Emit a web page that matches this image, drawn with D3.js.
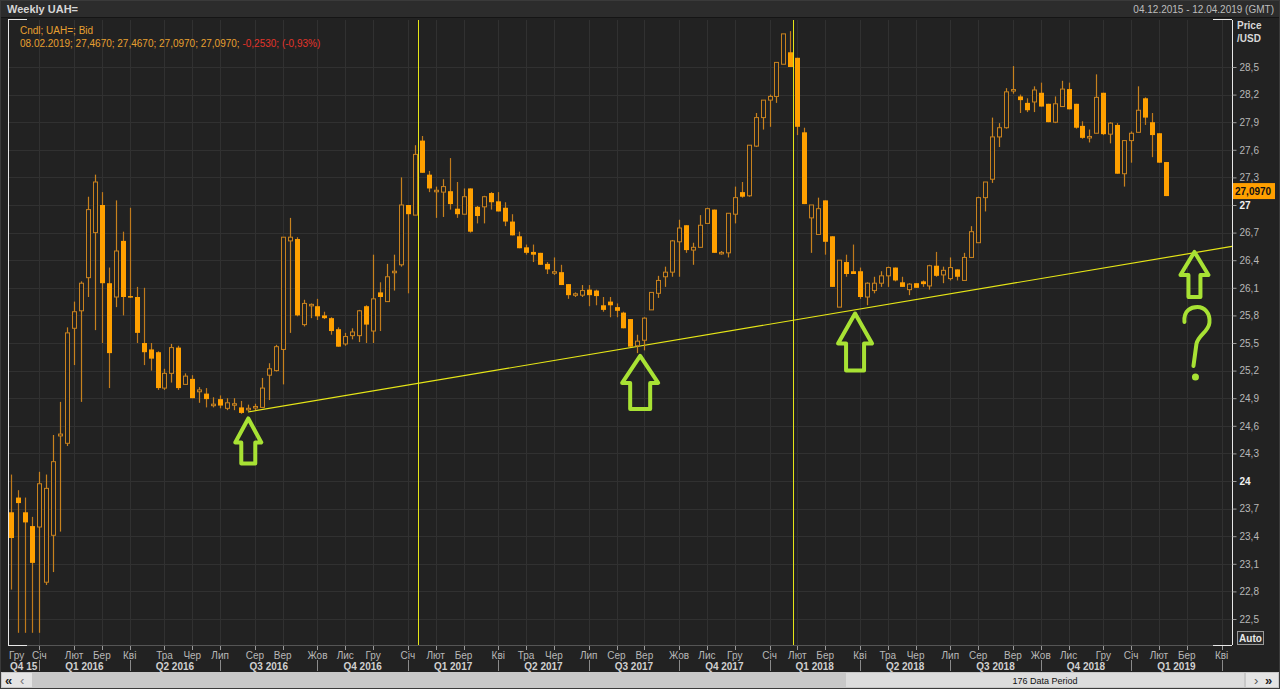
<!DOCTYPE html>
<html><head><meta charset="utf-8">
<script src="https://cdn.jsdelivr.net/npm/d3@7/dist/d3.min.js"></script>
<style>
html,body{margin:0;padding:0;background:#202020;overflow:hidden;}
svg{display:block;font-family:"Liberation Sans",Arial,sans-serif;}
</style></head><body>
<svg id="c" width="1280" height="689"></svg>
<script>
// ---------- DATA ----------
const startDate = "2015-12-04";
const periodCount = 176;
const opens = [23.66,23.82,23.66,23.51,23.50,22.90,23.41,24.49,24.41,25.66,25.85,26.21,26.70,27.00,26.15,26.00,26.61,26.01,26.00,25.50,
25.43,25.40,25.01,25.17,25.45,25.05,25.11,24.97,24.95,24.83,24.89,24.79,24.83,24.80,24.78,24.80,24.80,25.15,25.20,25.43,
26.61,26.63,25.70,25.91,25.90,25.80,25.77,25.65,25.49,25.58,25.58,25.90,25.63,26.05,25.95,26.27,26.35,27.00,26.89,27.70,
27.33,27.15,27.14,27.15,26.96,26.90,27.18,26.98,26.98,27.13,27.04,26.97,26.82,26.66,26.54,26.49,26.48,26.36,26.27,26.27,
26.14,26.03,26.02,26.08,26.07,25.91,25.95,25.89,25.83,25.76,25.47,25.53,25.86,26.04,26.22,26.27,26.60,26.78,26.51,26.54,
26.80,26.95,26.48,26.48,26.90,27.14,27.10,27.64,27.95,28.14,28.18,28.53,28.66,28.60,27.79,26.86,26.68,27.05,26.66,25.89,
26.38,26.28,26.28,26.00,26.07,26.15,26.23,26.32,26.16,26.08,26.15,26.17,26.12,26.34,26.24,26.20,26.30,26.18,26.43,26.59,
27.08,27.28,27.74,27.84,28.25,28.18,28.11,28.12,28.22,28.10,27.90,28.07,28.26,28.10,27.86,27.74,27.78,28.22,27.77,27.87,
27.34,27.70,27.79,28.16,27.90,27.78,27.467];
const highs = [24.07,23.90,23.82,23.61,24.10,24.07,24.50,24.86,25.67,25.95,26.17,27.09,27.33,27.14,26.32,27.05,26.71,26.97,26.11,26.10,
25.50,25.41,25.22,25.49,25.47,25.17,25.15,25.02,25.01,24.91,24.93,24.90,24.90,24.87,24.83,24.84,25.12,25.28,25.48,26.65,
26.86,26.65,25.97,25.93,25.98,25.84,25.78,25.67,25.61,25.66,25.86,25.91,26.46,26.16,26.36,26.46,27.30,27.00,27.65,27.75,
27.37,27.20,27.28,27.51,27.25,27.18,27.18,26.99,27.10,27.14,27.14,27.03,26.90,26.71,26.57,26.57,26.48,26.38,26.43,26.35,
26.14,26.05,26.13,26.13,26.08,26.00,26.00,25.93,25.84,25.76,25.59,25.78,26.05,26.23,26.33,26.62,26.84,26.78,26.59,26.89,
26.97,26.95,26.50,26.91,27.20,27.25,27.65,28.00,28.14,28.20,28.55,28.86,28.89,28.60,27.84,27.00,27.08,27.05,26.66,26.40,
26.46,26.57,26.32,26.16,26.22,26.28,26.33,26.32,26.22,26.15,26.15,26.18,26.35,26.49,26.33,26.43,26.30,26.48,26.77,27.09,
27.25,27.95,27.89,28.27,28.51,28.20,28.16,28.29,28.33,28.10,28.18,28.35,28.33,28.10,27.91,27.82,28.42,28.22,27.90,27.89,
27.70,27.80,28.29,28.17,28.00,27.78,27.467];
const lows = [22.82,22.35,22.35,22.35,22.35,22.87,23.01,23.45,24.38,25.26,24.86,26.00,25.64,25.50,25.01,25.89,25.80,25.99,25.50,25.26,
25.20,24.99,24.99,25.07,24.99,25.05,24.90,24.85,24.80,24.80,24.79,24.77,24.77,24.73,24.76,24.77,24.80,24.88,25.19,25.05,
25.61,25.79,25.68,25.77,25.75,25.76,25.59,25.46,25.47,25.54,25.51,25.50,25.50,25.63,25.95,26.07,26.33,26.04,26.89,27.35,
27.14,26.86,26.87,26.95,26.86,26.90,26.70,26.80,26.80,26.95,26.93,26.77,26.67,26.53,26.46,26.38,26.35,26.25,26.24,26.13,
25.98,26.00,26.00,25.90,25.91,25.84,25.78,25.78,25.66,25.46,25.39,25.42,25.86,25.99,26.11,26.22,26.22,26.48,26.35,26.54,
26.80,26.48,26.46,26.43,26.80,27.08,27.09,27.63,27.82,27.85,28.11,28.53,28.50,27.76,27.01,26.48,26.68,26.46,26.11,25.89,
26.22,26.25,25.98,25.91,26.04,26.11,26.11,26.17,26.11,26.02,26.10,26.11,26.08,26.22,26.15,26.18,26.18,26.18,26.43,26.59,
26.93,27.24,27.63,27.83,28.21,28.00,28.01,28.01,28.07,27.90,27.89,28.07,28.04,27.83,27.72,27.68,27.78,27.76,27.67,27.34,
27.20,27.46,27.79,27.87,27.52,27.46,27.097];
const closes = [23.38,23.76,23.55,23.11,23.97,23.92,24.21,24.51,25.61,25.84,26.15,26.95,27.25,26.15,25.39,26.50,26.00,26.00,25.61,25.40,
25.33,25.01,25.17,25.45,25.01,25.14,24.90,24.99,24.89,24.835,24.82,24.85,24.84,24.74,24.79,24.81,25.01,25.22,25.46,26.65,
26.65,25.80,25.93,25.92,25.79,25.77,25.63,25.46,25.57,25.62,25.85,25.70,25.98,26.00,26.22,26.28,27.00,26.90,27.55,27.35,
27.18,27.16,27.20,27.01,26.90,27.09,26.71,26.88,27.09,27.03,26.93,26.82,26.67,26.53,26.48,26.46,26.35,26.30,26.275,26.13,
26.02,26.035,26.07,26.02,26.01,25.86,25.91,25.85,25.66,25.46,25.52,25.77,26.05,26.18,26.27,26.61,26.75,26.51,26.54,26.78,
26.96,26.48,26.485,26.91,27.08,27.09,27.65,27.95,28.14,28.18,28.55,28.86,28.50,27.85,27.01,27.00,26.96,26.60,26.11,26.40,
26.25,26.25,26.00,26.15,26.15,26.23,26.32,26.18,26.11,26.14,26.10,26.14,26.34,26.23,26.29,26.32,26.22,26.43,26.71,27.08,
27.25,27.74,27.84,28.23,28.255,28.14,28.03,28.25,28.07,27.90,28.10,28.26,28.04,27.84,27.73,27.745,28.17,27.77,27.89,27.34,
27.70,27.78,28.03,27.95,27.76,27.46,27.097];
const monthNames = ["Січ","Лют","Бер","Кві","Тра","Чер","Лип","Сер","Вер","Жов","Лис","Гру"];
const quarterLabels = ["Q4 15","Q1 2016","Q2 2016","Q3 2016","Q4 2016","Q1 2017","Q2 2017","Q3 2017","Q4 2017","Q1 2018","Q2 2018","Q3 2018","Q4 2018","Q1 2019"];
const yTicks = [22.5,22.8,23.1,23.4,23.7,24,24.3,24.6,24.9,25.2,25.5,25.8,26.1,26.4,26.7,27,27.3,27.6,27.9,28.2,28.5];
const trendLine = [[34, 24.75],[175.5, 26.55]];      // [period index, price]
const markerLines = [58.5, 112.4];                   // period index of drawn vertical lines
const arrowTips = [[34.05, 24.68],[90.4, 25.36],[121.3, 25.82],[170.1, 26.49]];
const questionAt = [170.1, 26.49];
const headerText = "Weekly UAH=";
const rangeText = "04.12.2015 - 12.04.2019 (GMT)";
const legendLine1 = "Cndl; UAH=; Bid";
const legendLine2 = "08.02.2019; 27,4670; 27,4670; 27,0970; 27,0970; ";
const legendChange = "-0,2530; (-0,93%)";

// ---------- LAYOUT / STYLE ----------
const W = 1280, H = 689;
const L = 8, R = 1232, T = 20, B = 645;
const C = {bg:"#222222", grid:"#313131", up:"#c8821e", down:"#ffa000", wick:"#c07a1c",
           txt:"#b8b8b8", ann:"#e6e617", green:"#a8e234"};
// arrow shapes: [headHalfWidth, headHeight, shaftHalfWidth, totalHeight]
const arrowShapes = [[13,24,7,45],[18,27,10,53],[17,30,9,57],[14,23,6,45]];

const svg = d3.select("#c");
const x = d3.scaleLinear().domain([-0.5, periodCount - 0.5]).range([L, R]);
const y = d3.scaleLinear().domain([22.5, 28.5]).range([619, 67]);

const t0 = d3.timeParse("%Y-%m-%d")(startDate);
const dates = d3.range(periodCount).map(i => d3.timeDay.offset(t0, 7 * i));
const candles = opens.map((o, i) => ({i, o, h: highs[i], l: lows[i], c: closes[i]}));

// backgrounds
svg.append("rect").attr("width", W).attr("height", H).attr("fill", C.bg);
svg.append("rect").attr("x",0).attr("y",0).attr("width",W).attr("height",17).attr("fill","#2c2c2c");
svg.append("line").attr("x1",0).attr("x2",W).attr("y1",17.5).attr("y2",17.5).attr("stroke","#151515");
svg.append("rect").attr("x",0.5).attr("y",0.5).attr("width",W-1).attr("height",H-1).attr("fill","none").attr("stroke","#3a3a3a");

// month ticks
const monthIdx = dates.map((d, i) => i).filter(i => i === 0 || dates[i].getMonth() !== dates[i-1].getMonth());
const quarterIdx = monthIdx.filter(i => i > 0 && dates[i].getMonth() % 3 === 0);

// grid
const g = svg.append("g");
g.selectAll(".hg").data(yTicks).join("line")
  .attr("x1", L).attr("x2", R).attr("y1", d => Math.round(y(d)) + 0.5).attr("y2", d => Math.round(y(d)) + 0.5)
  .attr("stroke", C.grid).attr("stroke-width", 1);
g.selectAll(".vg").data(monthIdx.filter(i => i > 0)).join("line")
  .attr("x1", d => Math.round(x(d)) + 0.5).attr("x2", d => Math.round(x(d)) + 0.5)
  .attr("y1", T).attr("y2", B).attr("stroke", C.grid).attr("stroke-width", 1);

// clip
svg.append("clipPath").attr("id","pc").append("rect").attr("x",L).attr("y",T).attr("width",R-L).attr("height",B-T);
const plot = svg.append("g").attr("clip-path","url(#pc)");

// annotation vertical lines
plot.selectAll(".ml").data(markerLines).join("line")
  .attr("x1", d => Math.round(x(d)) + 0.5).attr("x2", d => Math.round(x(d)) + 0.5)
  .attr("y1", T).attr("y2", B).attr("stroke", C.ann).attr("stroke-width", 1);

// trend line
plot.append("line")
  .attr("x1", x(trendLine[0][0])).attr("y1", y(trendLine[0][1]))
  .attr("x2", x(trendLine[1][0])).attr("y2", y(trendLine[1][1]))
  .attr("stroke", C.ann).attr("stroke-width", 1.2);

// candles
const cg = plot.selectAll(".cd").data(candles).join("g");
cg.append("line")
  .attr("x1", d => Math.round(x(d.i)) + 0.5).attr("x2", d => Math.round(x(d.i)) + 0.5)
  .attr("y1", d => y(d.h)).attr("y2", d => Math.max(y(d.l), y(d.h) + 1))
  .attr("stroke", d => d.c >= d.o ? C.up : C.wick).attr("stroke-width", 1.2);
cg.append("rect")
  .attr("x", d => d.c >= d.o ? Math.round(x(d.i)) - 1.5 : Math.round(x(d.i)) - 2)
  .attr("width", d => d.c >= d.o ? 4 : 5)
  .attr("y", d => y(Math.max(d.o, d.c)) - (d.c >= d.o ? 0 : 0))
  .attr("height", d => Math.max(1.5, Math.abs(y(d.o) - y(d.c))))
  .attr("fill", d => d.c >= d.o ? C.bg : C.down)
  .attr("stroke", d => d.c >= d.o ? C.up : "none")
  .attr("stroke-width", 1);

// green hand-drawn arrows
plot.selectAll(".ar").data(arrowTips).join("path")
  .attr("transform", d => `translate(${x(d[0])},${y(d[1])})`)
  .attr("d", (d, k) => {
    const [hw, hh, sw, th] = arrowShapes[k];
    return `M0,0 L${hw},${hh} L${sw},${hh} L${sw},${th} L${-sw},${th} L${-sw},${hh} L${-hw},${hh} Z`;
  })
  .attr("fill","none").attr("stroke", C.green).attr("stroke-width", 4).attr("stroke-linejoin","round");
const qg = plot.append("g").attr("transform", `translate(${x(questionAt[0])},${y(questionAt[1])})`);
qg.append("path").attr("d","M-10,70 C-11,58 -3,55 3,55 C10,55 16,61 15,71 C14,80 4,83 2,92 L-1,114")
  .attr("fill","none").attr("stroke", C.green).attr("stroke-width", 4).attr("stroke-linecap","round");
qg.append("circle").attr("cx",1).attr("cy",125).attr("r",3.5).attr("fill", C.green);

// frame lines
svg.append("line").attr("x1",L+0.5).attr("x2",L+0.5).attr("y1",T).attr("y2",B).attr("stroke","#e8e8e8");
svg.append("line").attr("x1",L).attr("x2",B).attr("y1",B+0.5).attr("y2",B+0.5).attr("stroke","#555").attr("x2",R);
[[L, L+19, T-0.5],[R-19, R, T-0.5],[L, L+19, B+0.5],[R-19, R, B+0.5]].forEach(s =>
  svg.append("line").attr("x1",s[0]).attr("x2",s[1]).attr("y1",s[2]).attr("y2",s[2]).attr("stroke","#e8e8e8"));

// y axis
const yAxis = d3.axisRight(y).tickValues(yTicks).tickSize(4).tickPadding(3)
  .tickFormat(d => d3.format(".1~f")(d).replace(".", ","));
const ya = svg.append("g").attr("transform", `translate(${R + 0.5},0)`).call(yAxis);
ya.select(".domain").attr("stroke","#e8e8e8").attr("d", `M0,${T}V${B}`);
ya.selectAll(".tick line").attr("stroke","#9a9a9a");
ya.selectAll(".tick text").attr("fill", d => (Math.abs(d % 3) < 1e-6 ? "#f0f0f0" : C.txt))
  .attr("font-weight", d => (Math.abs(d % 3) < 1e-6 ? "bold" : "normal"))
  .attr("font-size", 10).attr("font-family", '"Liberation Sans",Arial,sans-serif');

// last price label
const lastC = closes[closes.length - 1];
svg.append("rect").attr("x", R + 1).attr("y", y(lastC) - 13).attr("width", 42).attr("height", 16).attr("fill", "#ff9f00");
svg.append("text").attr("x", R + 3).attr("y", y(lastC) - 1).attr("font-size", 10).attr("font-weight","bold")
  .attr("fill", "#111").text(d3.format(".4f")(lastC).replace(".", ","));

// Price /USD
svg.append("text").attr("x",1237).attr("y",29).attr("font-size",10).attr("font-weight","bold").attr("fill","#d8d8d8").text("Price");
svg.append("text").attr("x",1237).attr("y",42).attr("font-size",10).attr("font-weight","bold").attr("fill","#d8d8d8").text("/USD");

// Auto box
svg.append("rect").attr("x",1237.5).attr("y",631.5).attr("width",26).attr("height",13).attr("fill","#2a2a2a").attr("stroke","#9a9a9a");
svg.append("text").attr("x",1250.5).attr("y",642).attr("text-anchor","middle").attr("font-size",10).attr("font-weight","bold").attr("fill","#e8e8e8").text("Auto");

// x axis: month ticks + labels
const xa = svg.append("g");
xa.selectAll(".mt").data(monthIdx.filter(i => i > 0)).join("line")
  .attr("x1", d => Math.round(x(d)) + 0.5).attr("x2", d => Math.round(x(d)) + 0.5)
  .attr("y1", B + 1).attr("y2", B + 5).attr("stroke", "#9a9a9a");
xa.selectAll(".ml").data(monthIdx).join("text")
  .attr("x", d => d === 0 ? L + 1 : x(d)).attr("y", 659)
  .attr("text-anchor", d => d === 0 ? "start" : "middle")
  .attr("font-size", 10).attr("fill", C.txt)
  .text(d => monthNames[dates[d].getMonth()]);
// quarter separators & labels
xa.selectAll(".qs").data(quarterIdx).join("line")
  .attr("x1", d => Math.round(x(d)) + 0.5).attr("x2", d => Math.round(x(d)) + 0.5)
  .attr("y1", 660).attr("y2", 671).attr("stroke", "#8a8a8a");
const qBounds = [L].concat(quarterIdx.map(i => x(i)));
xa.selectAll(".ql").data(quarterLabels).join("text")
  .attr("x", (d, k) => (qBounds[k] + qBounds[k + 1]) / 2).attr("y", 670)
  .attr("text-anchor","middle").attr("font-size", 10).attr("font-weight","bold").attr("fill", "#d0d0d0")
  .text(d => d);

// header texts
svg.append("text").attr("x",7).attr("y",13).attr("font-size",11).attr("font-weight","bold").attr("fill","#d6d6d6").text(headerText);
svg.append("text").attr("x",1274).attr("y",13).attr("text-anchor","end").attr("font-size",10).attr("fill","#bdbdbd").text(rangeText);
svg.append("text").attr("x",20).attr("y",34).attr("font-size",10).attr("fill","#e8a030").text(legendLine1);
const lt = svg.append("text").attr("x",20).attr("y",47).attr("font-size",10);
lt.append("tspan").attr("fill","#e8a030").text(legendLine2);
lt.append("tspan").attr("fill","#e3342a").text(legendChange);

// scrollbar
svg.append("rect").attr("x",1).attr("y",672).attr("width",W-2).attr("height",16).attr("fill","#c8c8c8");
svg.append("rect").attr("x",846).attr("y",673).attr("width",398).attr("height",14).attr("fill","#dcdcdc");
svg.append("rect").attr("x",2).attr("y",673).attr("width",30).attr("height",14).attr("fill","#e4e4e4");
svg.append("rect").attr("x",1246).attr("y",673).attr("width",32).attr("height",14).attr("fill","#e4e4e4");
svg.append("text").attr("x",1045).attr("y",684).attr("text-anchor","middle").attr("font-size",9).attr("fill","#111").text(`${periodCount} Data Period`);
svg.append("text").attr("x",5).attr("y",685).attr("font-size",13).attr("font-weight","bold").attr("fill","#222").text("«");
svg.append("text").attr("x",20).attr("y",685).attr("font-size",13).attr("fill","#777").text("‹");
svg.append("text").attr("x",1254).attr("y",685).attr("font-size",13).attr("fill","#555").text("›");
svg.append("text").attr("x",1265).attr("y",685).attr("font-size",13).attr("font-weight","bold").attr("fill","#222").text("»");
</script>
</body></html>
